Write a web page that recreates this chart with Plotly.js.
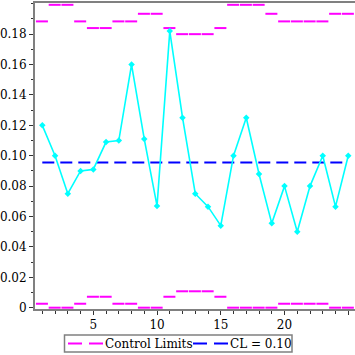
<!DOCTYPE html>
<html>
<head>
<meta charset="utf-8">
<script src="https://cdn.plot.ly/plotly-3.0.1.min.js"></script>
<style>html,body{margin:0;padding:0;background:#fff;}#chart{width:355px;height:355px;}</style>
</head>
<body>
<div id="chart"></div>
<script>
// Sample numbers
const samples = [1,2,3,4,5,6,7,8,9,10,11,12,13,14,15,16,17,18,19,20,21,22,23,24,25];
// Proportion per sample
const proportion = [0.120,0.100,0.075,0.090,0.091,0.109,0.110,0.160,0.111,0.067,0.182,0.125,0.075,0.0665,0.054,0.100,0.125,0.088,0.0555,0.080,0.050,0.080,0.100,0.0665,0.100];
// Upper / lower control limits per sample
const ucl = [0.1884,0.1993,0.1993,0.1884,0.1840,0.1840,0.1884,0.1884,0.1934,0.1934,0.1840,0.1800,0.1800,0.1800,0.1840,0.1993,0.1993,0.1993,0.1934,0.1884,0.1884,0.1884,0.1884,0.1934,0.1934];
const lcl = [0.0026,0,0,0.0026,0.0072,0.0072,0.0026,0.0026,0,0,0.0072,0.0108,0.0108,0.0108,0.0072,0,0,0,0,0.0026,0.0026,0.0026,0.0026,0,0];
// Center line
const centerLine = 0.0955;
// Legend labels
const legendLabels = ["Control Limits", "CL = 0.10"];
// Tick labels
const yTickVals = [0,0.02,0.04,0.06,0.08,0.10,0.12,0.14,0.16,0.18];
const yTickText = ["0","0.02","0.04","0.06","0.08","0.10","0.12","0.14","0.16","0.18"];
const xTickVals = [5,10,15,20,25];
const xTickText = ["5","10","15","20","25"];

const limColor = '#ff00ff', clColor = '#0000ff';

// Build step segments for control limits
const limX = [], limY = [];
[ucl, lcl].forEach(arr => {
  samples.forEach((s, i) => {
    limX.push(s - 0.5, s + 0.5, null);
    limY.push(arr[i], arr[i], null);
  });
});

const traces = [
  {
    x: limX, y: limY, mode: 'lines', name: legendLabels[0], showlegend: false,
    line: {color: limColor, width: 2, dash: '12px,6px'},
    connectgaps: false, hoverinfo: 'skip'
  },
  {
    x: [samples[0], samples[samples.length-1]], y: [centerLine, centerLine],
    mode: 'lines', name: legendLabels[1], showlegend: false,
    line: {color: clColor, width: 2, dash: '12px,6px'}
  },
  {
    x: samples, y: proportion, mode: 'lines+markers', showlegend: false,
    line: {color: '#00ffff', width: 1.6},
    marker: {symbol: 'diamond', size: 5, color: '#00ffff'}
  }
];

// plot area geometry in pixels (for the hand-drawn legend box)
const L = 35, R = 355, T = 3, B = 309;
const px = v => (v - L) / (R - L);
const py = v => (B - v) / (B - T);
const legY = 343.5;

const font = {family: '"DejaVu Serif", "Liberation Serif", serif', size: 12, color: '#000'};
const layout = {
  width: 355, height: 355,
  margin: {l: L, r: 355 - R, t: T, b: 355 - B, pad: 0},
  paper_bgcolor: '#fff', plot_bgcolor: '#fff',
  font: font,
  showlegend: false,
  xaxis: {
    range: [0.427, 25.53], showgrid: false, zeroline: false,
    showline: true, linecolor: '#808080', linewidth: 2, mirror: true,
    tickmode: 'array', tickvals: xTickVals, ticktext: xTickText,
    ticks: 'outside', ticklen: 4, tickcolor: '#333', tickwidth: 1,
    minor: {dtick: 1, tick0: 0, ticks: 'outside', ticklen: 3, tickcolor: '#333', showgrid: false},
    tickfont: font
  },
  yaxis: {
    range: [-0.00086, 0.2005], showgrid: false, zeroline: false,
    showline: true, linecolor: '#808080', linewidth: 2,
    tickmode: 'array', tickvals: yTickVals, ticktext: yTickText,
    ticks: 'outside', ticklen: 4, tickcolor: '#333', tickwidth: 1,
    minor: {dtick: 0.01, tick0: 0, ticks: 'outside', ticklen: 2, tickcolor: '#333', showgrid: false},
    tickfont: font
  },
  shapes: [
    {type: 'rect', xref: 'paper', yref: 'paper', x0: px(64.5), x1: px(292), y0: py(352), y1: py(335),
     line: {color: '#808080', width: 1.5}, fillcolor: 'rgba(0,0,0,0)'},
    {type: 'line', xref: 'paper', yref: 'paper', x0: px(68), x1: px(103), y0: py(legY), y1: py(legY),
     line: {color: limColor, width: 2, dash: '14px,7px'}},
    {type: 'line', xref: 'paper', yref: 'paper', x0: px(193), x1: px(228), y0: py(legY), y1: py(legY),
     line: {color: clColor, width: 2, dash: '14px,7px'}}
  ],
  annotations: [
    {xref: 'paper', yref: 'paper', x: px(104), y: py(legY), xanchor: 'left', yanchor: 'middle',
     text: legendLabels[0], showarrow: false, font: font, borderpad: 0},
    {xref: 'paper', yref: 'paper', x: px(229), y: py(legY), xanchor: 'left', yanchor: 'middle',
     text: legendLabels[1], showarrow: false, font: font, borderpad: 0}
  ]
};

Plotly.newPlot('chart', traces, layout, {staticPlot: true, displayModeBar: false});
</script>
</body>
</html>
